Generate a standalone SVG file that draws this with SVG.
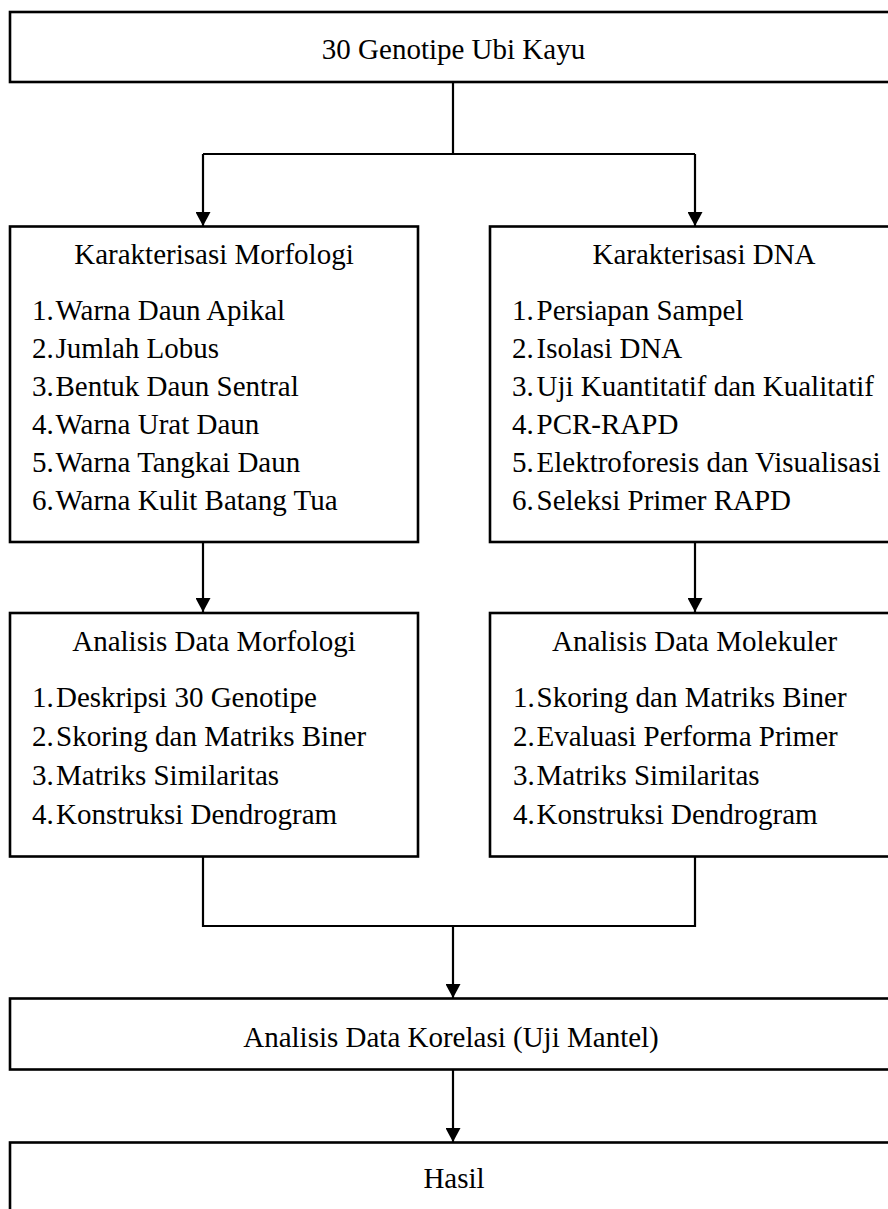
<svg xmlns="http://www.w3.org/2000/svg" width="888" height="1209" viewBox="0 0 888 1209">
<style>
.box{fill:#ffffff;stroke:#000000;stroke-width:2.6}
.ln{fill:none;stroke:#000000;stroke-width:2.2}
text{font-family:"Liberation Serif","Times New Roman",serif;font-size:29px;fill:#000000}
.c{text-anchor:middle}
</style>
<defs>
<marker id="ah" markerUnits="userSpaceOnUse" markerWidth="14" markerHeight="15" refX="14" refY="7.5" orient="auto" viewBox="0 0 14 15">
<path d="M0,0 L14,7.5 L0,15 z" fill="#000000"/>
</marker>
</defs>
<rect width="888" height="1209" fill="#ffffff"/>
<g id="connectors">
<path class="ln" d="M453,82 V154 M203,154 H695"/>
<path class="ln" d="M203,154 V226" marker-end="url(#ah)"/>
<path class="ln" d="M695,154 V226" marker-end="url(#ah)"/>
<path class="ln" d="M203,542 V612" marker-end="url(#ah)"/>
<path class="ln" d="M695,542 V612" marker-end="url(#ah)"/>
<path class="ln" d="M203,856 V926 H695 V856"/>
<path class="ln" d="M453,926 V998" marker-end="url(#ah)"/>
<path class="ln" d="M453,1070 V1142" marker-end="url(#ah)"/>
</g>
<g id="n-genotipe">
<rect class="box" x="10" y="12" width="900" height="70"/>
<text class="c" x="453.5" y="59">30 Genotipe Ubi Kayu</text>
</g>
<g id="n-morfologi">
<rect class="box" x="10" y="226.5" width="408" height="315.5"/>
<text class="c" x="214" y="264">Karakterisasi Morfologi</text>
<text x="32" y="320">1.<tspan x="55.5">Warna Daun Apikal</tspan></text>
<text x="32" y="358">2.<tspan x="55.5">Jumlah Lobus</tspan></text>
<text x="32" y="396">3.<tspan x="55.5">Bentuk Daun Sentral</tspan></text>
<text x="32" y="434">4.<tspan x="55.5">Warna Urat Daun</tspan></text>
<text x="32" y="472">5.<tspan x="55.5">Warna Tangkai Daun</tspan></text>
<text x="32" y="510">6.<tspan x="55.5">Warna Kulit Batang Tua</tspan></text>
</g>
<g id="n-dna">
<rect class="box" x="490" y="226.5" width="420" height="315.5"/>
<text class="c" x="704" y="264">Karakterisasi DNA</text>
<text x="512" y="320">1.<tspan x="536.5">Persiapan Sampel</tspan></text>
<text x="512" y="358">2.<tspan x="536.5">Isolasi DNA</tspan></text>
<text x="512" y="396">3.<tspan x="536.5">Uji Kuantitatif dan Kualitatif</tspan></text>
<text x="512" y="434">4.<tspan x="536.5">PCR-RAPD</tspan></text>
<text x="512" y="472">5.<tspan x="536.5">Elektroforesis dan Visualisasi</tspan></text>
<text x="512" y="510">6.<tspan x="536.5">Seleksi Primer RAPD</tspan></text>
</g>
<g id="n-analisis-morfologi">
<rect class="box" x="10" y="613" width="408" height="243.5"/>
<text class="c" x="214" y="651">Analisis Data Morfologi</text>
<text x="32" y="707">1.<tspan x="56">Deskripsi 30 Genotipe</tspan></text>
<text x="32" y="746">2.<tspan x="56">Skoring dan Matriks Biner</tspan></text>
<text x="32" y="785">3.<tspan x="56">Matriks Similaritas</tspan></text>
<text x="32" y="824">4.<tspan x="56">Konstruksi Dendrogram</tspan></text>
</g>
<g id="n-analisis-molekuler">
<rect class="box" x="490" y="613" width="420" height="243.5"/>
<text class="c" x="694.5" y="651">Analisis Data Molekuler</text>
<text x="513" y="707">1.<tspan x="536.5">Skoring dan Matriks Biner</tspan></text>
<text x="513" y="746">2.<tspan x="536.5">Evaluasi Performa Primer</tspan></text>
<text x="513" y="785">3.<tspan x="536.5">Matriks Similaritas</tspan></text>
<text x="513" y="824">4.<tspan x="536.5">Konstruksi Dendrogram</tspan></text>
</g>
<g id="n-korelasi">
<rect class="box" x="10" y="998.5" width="900" height="71"/>
<text class="c" x="451" y="1046.5">Analisis Data Korelasi (Uji Mantel)</text>
</g>
<g id="n-hasil">
<rect class="box" x="10" y="1142.5" width="900" height="100"/>
<text class="c" x="454" y="1188">Hasil</text>
</g>
</svg>
